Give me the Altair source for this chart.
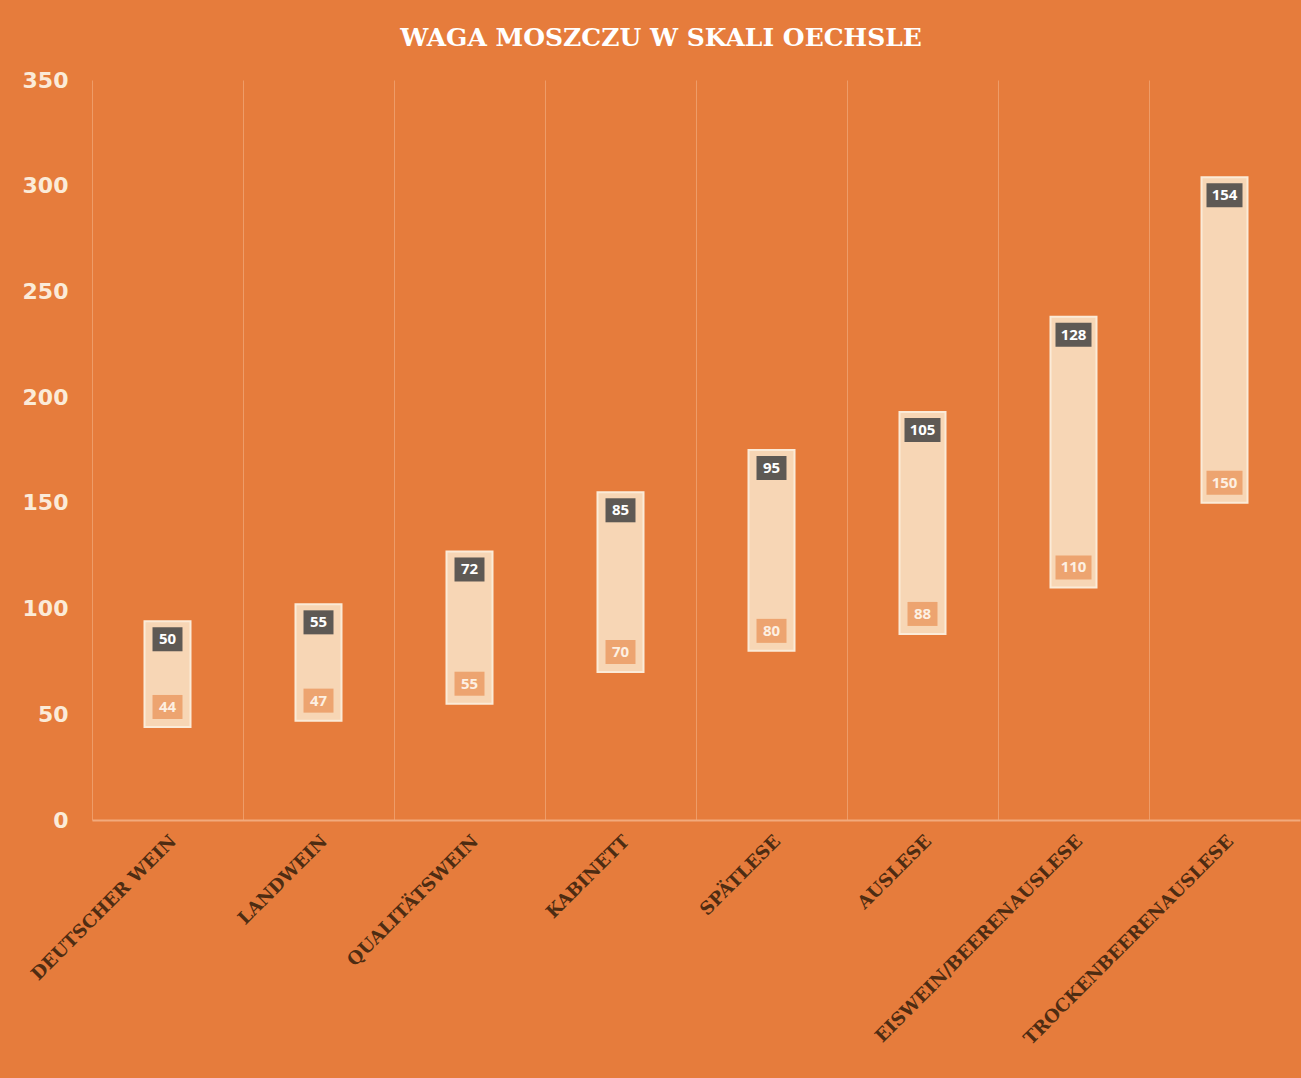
import altair as alt
import pandas as pd

categories = ["DEUTSCHER WEIN", "LANDWEIN", "QUALITÄTSWEIN", "KABINETT",
              "SPÄTLESE", "AUSLESE", "EISWEIN/BEERENAUSLESE", "TROCKENBEERENAUSLESE"]
start_values = [44, 47, 55, 70, 80, 88, 110, 150]
range_values = [50, 55, 72, 85, 95, 105, 128, 154]
y_ticks = [0, 50, 100, 150, 200, 250, 300, 350]

df = pd.DataFrame({"cat": categories, "start": start_values, "len": range_values})

BG = "#E67C3C"
CREAM = "#FBEBD8"

x_enc = alt.X("cat:N", sort=categories, title=None,
              scale=alt.Scale(paddingInner=0, paddingOuter=0),
              axis=alt.Axis(bandPosition=0, labelAngle=-45,
                            labelFont="DejaVu Serif", labelFontSize=18,
                            labelFontWeight="bold",
                            labelColor="#4E2C12", labelPadding=12,
                            ticks=False, grid=True, gridColor="#EE9C68",
                            gridWidth=1, domainColor="#F2AA7C", domainWidth=2,
                            labelLimit=400))

y_scale = alt.Scale(domain=[0, 350], nice=False)

base = alt.Chart(df).transform_calculate(
    end="datum.start + datum.len",
    shpTop="length(toString(datum.len)) > 2 ? 'M-1,-0.667H1V0.667H-1Z' : 'M-0.833,-0.667H0.833V0.667H-0.833Z'",
    shpBot="length(toString(datum.start)) > 2 ? 'M-1,-0.667H1V0.667H-1Z' : 'M-0.833,-0.667H0.833V0.667H-0.833Z'",
)

bars = base.mark_bar(width=46, color="#F7D6B5", stroke=CREAM, strokeWidth=2).encode(
    x=x_enc,
    y=alt.Y("start:Q", scale=y_scale, title=None,
            axis=alt.Axis(values=y_ticks, grid=False, ticks=False, domain=False,
                          labelFont="DejaVu Sans", labelFontSize=22,
                          labelFontWeight="bold", labelColor=CREAM,
                          labelPadding=24)),
    y2="end:Q",
)

top_box = base.mark_point(filled=True, opacity=1, yOffset=18, color="#5E5954", strokeWidth=0).encode(
    x=alt.X("cat:N", sort=categories),
    y=alt.Y("end:Q", scale=y_scale),
    shape=alt.Shape("shpTop:N", scale=None),
    size=alt.value(1296),
)
top_text = base.mark_text(yOffset=18, color="#FFFFFF", font="Open Sans",
                          fontSize=15, fontWeight="bold").encode(
    x=alt.X("cat:N", sort=categories),
    y=alt.Y("end:Q", scale=y_scale),
    text="len:Q",
)
bot_box = base.mark_point(filled=True, opacity=1, yOffset=-20, color="#EDA470", strokeWidth=0).encode(
    x=alt.X("cat:N", sort=categories),
    y=alt.Y("start:Q", scale=y_scale),
    shape=alt.Shape("shpBot:N", scale=None),
    size=alt.value(1296),
)
bot_text = base.mark_text(yOffset=-20, color="#FDF0E2", font="Open Sans",
                          fontSize=15, fontWeight="bold").encode(
    x=alt.X("cat:N", sort=categories),
    y=alt.Y("start:Q", scale=y_scale),
    text="start:Q",
)

chart = alt.layer(bars, top_box, top_text, bot_box, bot_text).properties(
    width=1208, height=740,
    title=alt.TitleParams("WAGA MOSZCZU W SKALI OECHSLE", font="DejaVu Serif",
                          fontSize=25, fontWeight="bold", color="#FFFFFF",
                          anchor="middle", frame="bounds", offset=18),
    background=BG,
    padding={"left": 92, "top": 80, "right": 1, "bottom": 258},
    autosize=alt.AutoSizeParams(type="none"),
).configure_view(stroke=None)

chart.save("out.html", embed_options={"renderer": "svg", "actions": False})
